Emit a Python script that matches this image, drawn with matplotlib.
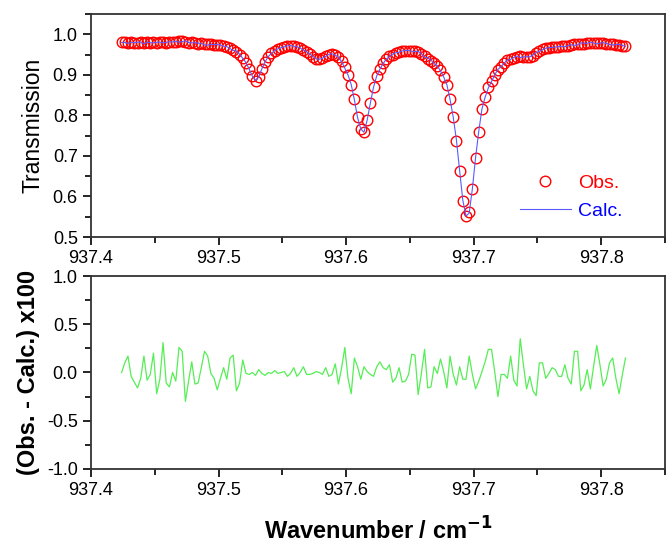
import numpy as np
import matplotlib
matplotlib.use("Agg")
import matplotlib.pyplot as plt
from matplotlib.ticker import MultipleLocator, FormatStrFormatter

plt.rcParams["font.family"] = ["Liberation Sans", "DejaVu Sans"]

# wavenumber grid (cm-1)
inicio = 937.424
passo = 0.0025

# observed transmission
obs = [0.980, 0.981, 0.979, 0.980, 0.978, 0.979, 0.980, 0.978, 0.980, 0.979,
       0.981, 0.978, 0.980, 0.982, 0.979, 0.980, 0.981, 0.982, 0.983, 0.984,
       0.981, 0.979, 0.980, 0.978, 0.977, 0.978, 0.976, 0.975, 0.975, 0.974,
       0.973, 0.973, 0.971, 0.969, 0.966, 0.962, 0.957, 0.950, 0.942, 0.930,
       0.914, 0.897, 0.886, 0.895, 0.915, 0.932, 0.945, 0.953, 0.960, 0.964,
       0.967, 0.969, 0.971, 0.972, 0.971, 0.969, 0.966, 0.962, 0.957, 0.951,
       0.945, 0.940, 0.938, 0.941, 0.946, 0.950, 0.952, 0.949, 0.943, 0.933,
       0.919, 0.899, 0.874, 0.840, 0.795, 0.766, 0.759, 0.788, 0.830, 0.869,
       0.898, 0.915, 0.928, 0.939, 0.946, 0.950, 0.954, 0.956, 0.958, 0.959,
       0.960, 0.960, 0.959, 0.956, 0.952, 0.946, 0.940, 0.935, 0.928, 0.922,
       0.911, 0.895, 0.874, 0.841, 0.795, 0.738, 0.664, 0.590, 0.551, 0.561,
       0.619, 0.694, 0.760, 0.816, 0.846, 0.870, 0.886, 0.900, 0.911, 0.920,
       0.929, 0.936, 0.940, 0.942, 0.945, 0.946, 0.945, 0.943, 0.944, 0.947,
       0.953, 0.959, 0.963, 0.965, 0.967, 0.968, 0.969, 0.969, 0.970, 0.970,
       0.971, 0.973, 0.975, 0.976, 0.977, 0.977, 0.978, 0.979, 0.979, 0.979,
       0.979, 0.978, 0.977, 0.976, 0.975, 0.974, 0.973, 0.972, 0.972]

# residual (obs - calc) x100
residuo = [0.00, 0.10, 0.17, -0.04, -0.10, -0.16, -0.06, 0.17, -0.08, -0.02,
           0.20, -0.22, -0.07, 0.31, -0.11, -0.15, 0.00, -0.09, 0.26, 0.22,
           -0.30, -0.09, 0.11, -0.12, -0.11, 0.05, 0.22, 0.17, -0.01, -0.06,
           -0.18, -0.06, 0.05, -0.07, 0.15, 0.18, -0.19, -0.11, 0.13, -0.01,
           -0.02, 0.00, -0.03, 0.03, -0.01, -0.03, 0.00, -0.01, 0.02, -0.01,
           0.00, 0.01, -0.04, -0.01, 0.05, -0.04, 0.00, 0.06, -0.02, -0.02,
           -0.01, 0.01, 0.00, -0.02, 0.05, -0.04, -0.02, 0.09, -0.12, 0.05,
           0.26, -0.06, -0.22, 0.15, 0.06, -0.07, 0.06, 0.01, -0.02, -0.04,
           0.06, 0.11, 0.05, 0.03, 0.08, -0.10, -0.06, 0.05, -0.10, -0.09,
           -0.02, 0.19, 0.18, -0.23, -0.01, 0.24, -0.16, -0.15, 0.06, -0.01,
           0.14, 0.01, -0.16, 0.17, -0.02, -0.13, 0.06, -0.07, -0.07, 0.17,
           -0.02, -0.17, -0.09, 0.01, 0.11, 0.24, 0.24, 0.01, -0.25, -0.02,
           -0.02, -0.06, 0.17, -0.08, -0.14, 0.35, 0.08, -0.17, -0.04, -0.19,
           -0.24, 0.10, 0.10, -0.06, -0.01, 0.05, 0.03, -0.04, -0.04, 0.08,
           -0.06, -0.12, 0.22, 0.22, -0.19, -0.13, 0.03, -0.17, 0.06, 0.28,
           0.08, -0.14, -0.07, 0.10, 0.15, -0.06, -0.22, -0.03, 0.15]

obs = np.array(obs)
residuo = np.array(residuo)
onda = inicio + passo * np.arange(len(obs))
calc = obs - residuo / 100.0

fig = plt.figure(figsize=(6.66, 5.43), dpi=100)
ax1 = fig.add_axes([0.1366, 0.5635, 0.8619, 0.4107])
ax2 = fig.add_axes([0.1366, 0.1363, 0.8619, 0.3554])

# painel de cima: transmissao
ax1.plot(onda, obs, "o", ms=7.6, mfc="none", mec="#ff0000", mew=1.0, label="Obs.")
ax1.plot(onda, calc, "-", color="#5a5aff", lw=0.8, label="Calc.")
ax1.set_xlim(937.4, 937.85)
ax1.set_ylim(0.5, 1.05)
ax1.set_ylabel("Transmission", fontsize=16.5, labelpad=6)
leg = ax1.legend(loc="lower right", bbox_to_anchor=(0.957, 0.0), frameon=False,
                 fontsize=14, handlelength=2.6, handletextpad=0.4, labelspacing=0.5)
for txt, cor in zip(leg.get_texts(), ["#ff0000", "#0000ff"]):
    txt.set_color(cor)

# painel de baixo: residuo
ax2.plot(onda, residuo, "-", color="#55ee55", lw=0.9)
ax2.set_xlim(937.4, 937.85)
ax2.set_ylim(-1.0, 1.0)
ax2.set_ylabel("(Obs. - Calc.) x100", fontsize=17, fontweight="bold", labelpad=5)
ax2.set_xlabel("Wavenumber / cm$^{\\mathbf{-1}}$", fontsize=17, fontweight="bold", labelpad=13)

for ax, maj, mnr in [(ax1, 0.1, 0.05), (ax2, 0.5, 0.25)]:
    ax.xaxis.set_major_locator(MultipleLocator(0.1))
    ax.xaxis.set_minor_locator(MultipleLocator(0.05))
    ax.yaxis.set_major_locator(MultipleLocator(maj))
    ax.yaxis.set_minor_locator(MultipleLocator(mnr))
    ax.tick_params(which="major", direction="out", length=6, width=1.2, labelsize=13)
    ax.tick_params(which="minor", direction="out", length=4, width=1.2)
    ax.tick_params(top=False, right=False)
    for s in ax.spines.values():
        s.set_linewidth(1.3)
        s.set_color("#333333")
    ax.xaxis.set_major_formatter(FormatStrFormatter("%.1f"))
    ax.yaxis.set_major_formatter(FormatStrFormatter("%.1f"))

fig.align_ylabels([ax1, ax2])
plt.savefig("out.png", dpi=100)
